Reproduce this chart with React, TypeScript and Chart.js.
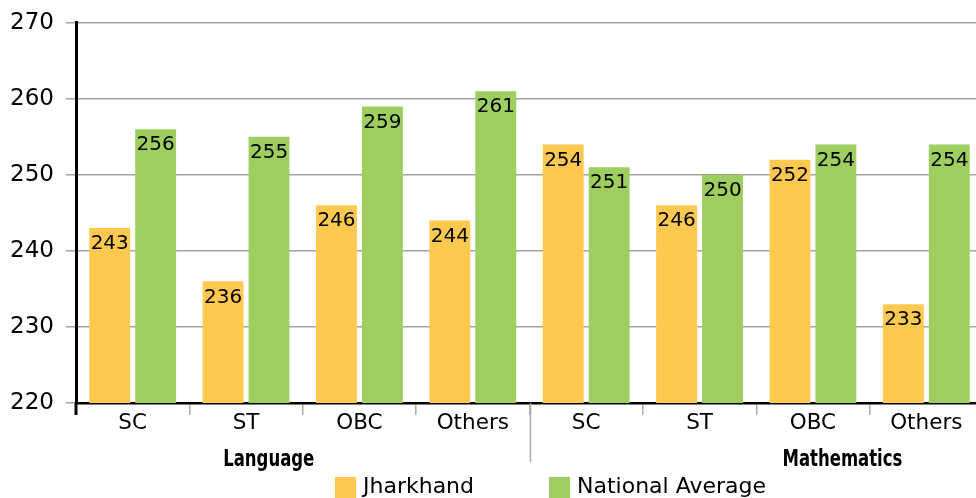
import React, { useEffect, useRef } from "react";
import { Chart, registerables } from "chart.js";

Chart.register(...registerables);

const categories = ["SC", "ST", "OBC", "Others", "SC", "ST", "OBC", "Others"];
const subjects = ["Language", "Mathematics"];
const jharkhand = [243, 236, 246, 244, 254, 246, 252, 233];
const nationalAverage = [256, 255, 259, 261, 251, 250, 254, 254];
const seriesNames = ["Jharkhand", "National Average"];
const yMin = 220;
const yMax = 270;
const yStep = 10;

const YELLOW = "#FFC94F";
const GREEN = "#9DCE5F";
const FONT = "'DejaVu Sans', sans-serif";

const overlay = {
  id: "overlay",
  afterDatasetsDraw(chart: any) {
    const ctx = chart.ctx;
    ctx.save();
    ctx.font = `20px ${FONT}`;
    ctx.fillStyle = "#000";
    ctx.textAlign = "center";
    ctx.textBaseline = "middle";
    chart.data.datasets.forEach((ds: any, i: number) => {
      const meta = chart.getDatasetMeta(i);
      meta.data.forEach((bar: any, j: number) => {
        ctx.fillText(String(ds.data[j]), bar.x, bar.y + 16);
      });
    });
    ctx.restore();
  },
  afterDraw(chart: any) {
    const ctx = chart.ctx;
    const { chartArea } = chart;
    const x = chart.scales.x;
    const b = chartArea.bottom;
    ctx.save();
    // y axis extension below x axis
    ctx.strokeStyle = "#000";
    ctx.lineWidth = 3;
    ctx.beginPath();
    ctx.moveTo(chartArea.left, b);
    ctx.lineTo(chartArea.left, b + 12);
    ctx.stroke();
    // group separator
    const sepX = Math.round((x.getPixelForValue(3) + x.getPixelForValue(4)) / 2) + 0.5;
    ctx.strokeStyle = "#aaaaaa";
    ctx.lineWidth = 1.5;
    ctx.beginPath();
    ctx.moveTo(sepX, b);
    ctx.lineTo(sepX, b + 59);
    ctx.stroke();
    // group labels (condensed bold)
    ctx.fillStyle = "#000";
    ctx.font = "bold 23.5px 'DejaVu Sans Condensed', 'DejaVu Sans', sans-serif";
    ctx.textAlign = "center";
    ctx.textBaseline = "alphabetic";
    const groupPos = [1.2, 6.26];
    const squeeze = 0.78;
    subjects.forEach((s, g) => {
      const cx = x.getPixelForValue(groupPos[g]);
      ctx.save();
      ctx.translate(cx, b + 63);
      ctx.scale(squeeze, 1);
      ctx.fillText(s, 0, 0);
      ctx.restore();
    });
    // legend
    const colors = [YELLOW, GREEN];
    ctx.font = `22px ${FONT}`;
    ctx.textAlign = "left";
    ctx.textBaseline = "middle";
    seriesNames.forEach((name, i) => {
      const bx = 335 + i * 214;
      ctx.fillStyle = colors[i];
      ctx.fillRect(bx, b + 74, 21, 21);
      ctx.fillStyle = "#000";
      ctx.fillText(name, bx + 28, b + 84);
    });
    ctx.restore();
  },
};

export default function App() {
  const ref = useRef<HTMLCanvasElement | null>(null);
  useEffect(() => {
    if (!ref.current) return;
    const chart = new Chart(ref.current, {
      type: "bar",
      data: {
        labels: categories,
        datasets: [
          {
            label: seriesNames[0],
            data: jharkhand,
            backgroundColor: YELLOW,
            categoryPercentage: 0.81,
            barPercentage: 0.89,
          },
          {
            label: seriesNames[1],
            data: nationalAverage,
            backgroundColor: GREEN,
            categoryPercentage: 0.81,
            barPercentage: 0.89,
          },
        ],
      },
      options: {
        responsive: false,
        animation: false,
        devicePixelRatio: 1,
        layout: { padding: { top: 17, right: 7, left: 0, bottom: 0 } },
        plugins: {
          legend: { display: false },
          tooltip: { enabled: false },
        },
        scales: {
          x: {
            grid: {
              display: true,
              drawOnChartArea: false,
              drawTicks: true,
              tickLength: 12,
              color: "#aaaaaa",
              lineWidth: 1.5,
            },
            border: { display: true, color: "#000", width: 2.5 },
            ticks: {
              color: "#000",
              font: { family: FONT, size: 21.5 },
              padding: -4,
              maxRotation: 0,
              autoSkip: false,
            },
            afterFit: (s: any) => {
              s.height = 104;
            },
          },
          y: {
            min: yMin,
            max: yMax,
            grid: {
              color: "#a4a4a4",
              lineWidth: 1.5,
              tickLength: 10,
            },
            border: { display: true, color: "#000", width: 3 },
            ticks: {
              stepSize: yStep,
              color: "#000",
              font: { family: FONT, size: 23 },
              padding: 12,
            },
            afterFit: (s: any) => {
              s.width = 76;
            },
          },
        },
      },
      plugins: [overlay],
    });
    return () => chart.destroy();
  }, []);
  return (
    <div style={{ position: "fixed", left: 0, top: 0, width: 976, height: 498, overflow: "hidden" }}>
      <canvas ref={ref} width={990} height={510} style={{ display: "block", marginTop: -3 }} />
    </div>
  );
}
